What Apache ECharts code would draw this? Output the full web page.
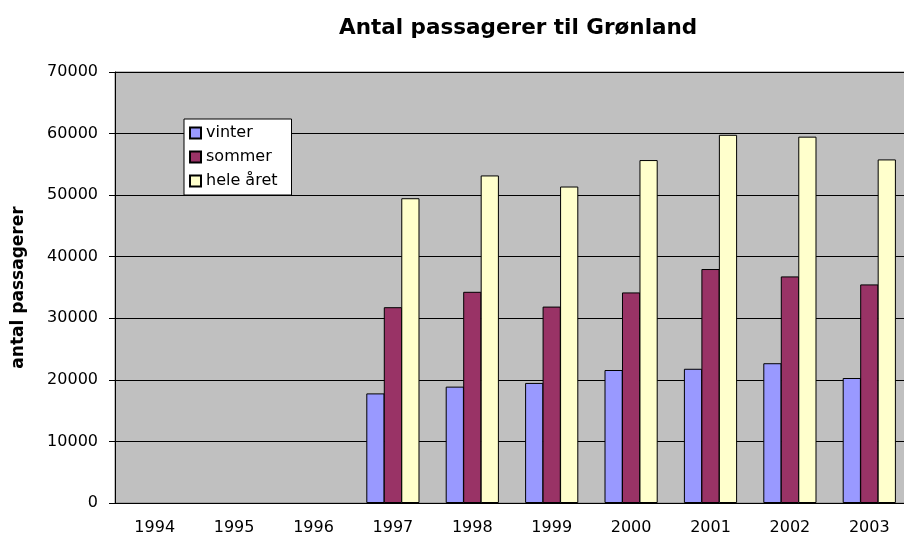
<!DOCTYPE html>
<html lang="da">
<head>
    <meta charset="UTF-8">
    <title>Antal passagerer til Grønland</title>
    <script src="https://cdn.jsdelivr.net/npm/echarts@6/dist/echarts.min.js"></script>
    <style>
        * { margin: 0; padding: 0; box-sizing: border-box; }
        html, body { width: 904px; height: 535px; overflow: hidden; background: #fff; }
        #chart { width: 904px; height: 535px; }
    </style>
</head>
<body>
    <div id="chart"></div>
    <script>
        // data
        const years = ['1994', '1995', '1996', '1997', '1998', '1999', '2000', '2001', '2002', '2003'];
        const vinter = [null, null, null, 17800, 18900, 19500, 21600, 21800, 22700, 20300];
        const sommer = [null, null, null, 31800, 34300, 31900, 34200, 38000, 36800, 35500];
        const heleAaret = [null, null, null, 49500, 53200, 51400, 55700, 59800, 59500, 55800];
        const yTicks = [0, 10000, 20000, 30000, 40000, 50000, 60000, 70000];

        const font = 'DejaVu Sans';

        function barSeries(name, data, color) {
            return {
                name: name,
                type: 'bar',
                data: data,
                barGap: '-4%', // bars share their border like in the original
                barCategoryGap: '33%',
                itemStyle: { color: color, borderColor: '#000', borderWidth: 1 }
            };
        }

        const chart = echarts.init(document.getElementById('chart'));
        chart.setOption({
            animation: false,
            title: {
                text: 'Antal passagerer til Grønland',
                left: 334,
                top: 12,
                textStyle: { fontFamily: font, fontSize: 21.5, fontWeight: 'bold', color: '#000' }
            },
            legend: {
                orient: 'vertical',
                left: 184,
                top: 119,
                backgroundColor: '#fff',
                borderColor: '#000',
                borderWidth: 1,
                padding: [6, 14, 6, 5],
                itemWidth: 11,
                itemHeight: 11,
                itemGap: 8,
                icon: 'rect',
                textStyle: { fontFamily: font, fontSize: 16, lineHeight: 16, color: '#000' },
                data: ['vinter', 'sommer', 'hele året']
            },
            grid: {
                left: 115,
                top: 72,
                bottom: 32,
                right: -5,
                containLabel: false,
                outerBoundsMode: 'none',
                show: true,
                backgroundColor: '#c0c0c0',
                borderColor: '#808080',
                borderWidth: 1
            },
            xAxis: {
                type: 'category',
                data: years,
                axisLine: { lineStyle: { color: '#000' } },
                axisTick: { length: 6, lineStyle: { color: '#000' } },
                axisLabel: { interval: 0, margin: 17, fontFamily: font, fontSize: 16, color: '#000' }
            },
            yAxis: {
                type: 'value',
                min: yTicks[0],
                max: yTicks[yTicks.length - 1],
                interval: yTicks[1] - yTicks[0],
                name: 'antal passagerer',
                nameLocation: 'middle',
                nameGap: 88,
                nameTextStyle: { fontFamily: font, fontSize: 17, fontWeight: 'bold', color: '#000' },
                axisLine: { show: true, lineStyle: { color: '#000' } },
                axisTick: { show: true, length: 6, lineStyle: { color: '#000' } },
                axisLabel: {
                    margin: 17, fontFamily: font, fontSize: 16, color: '#000',
                    formatter: function (v) { return String(v); }
                },
                splitLine: { lineStyle: { color: '#000', width: 1 } }
            },
            series: [
                barSeries('vinter', vinter, '#9999ff'),
                barSeries('sommer', sommer, '#993366'),
                barSeries('hele året', heleAaret, '#ffffcc')
            ]
        });
    </script>
</body>
</html>
